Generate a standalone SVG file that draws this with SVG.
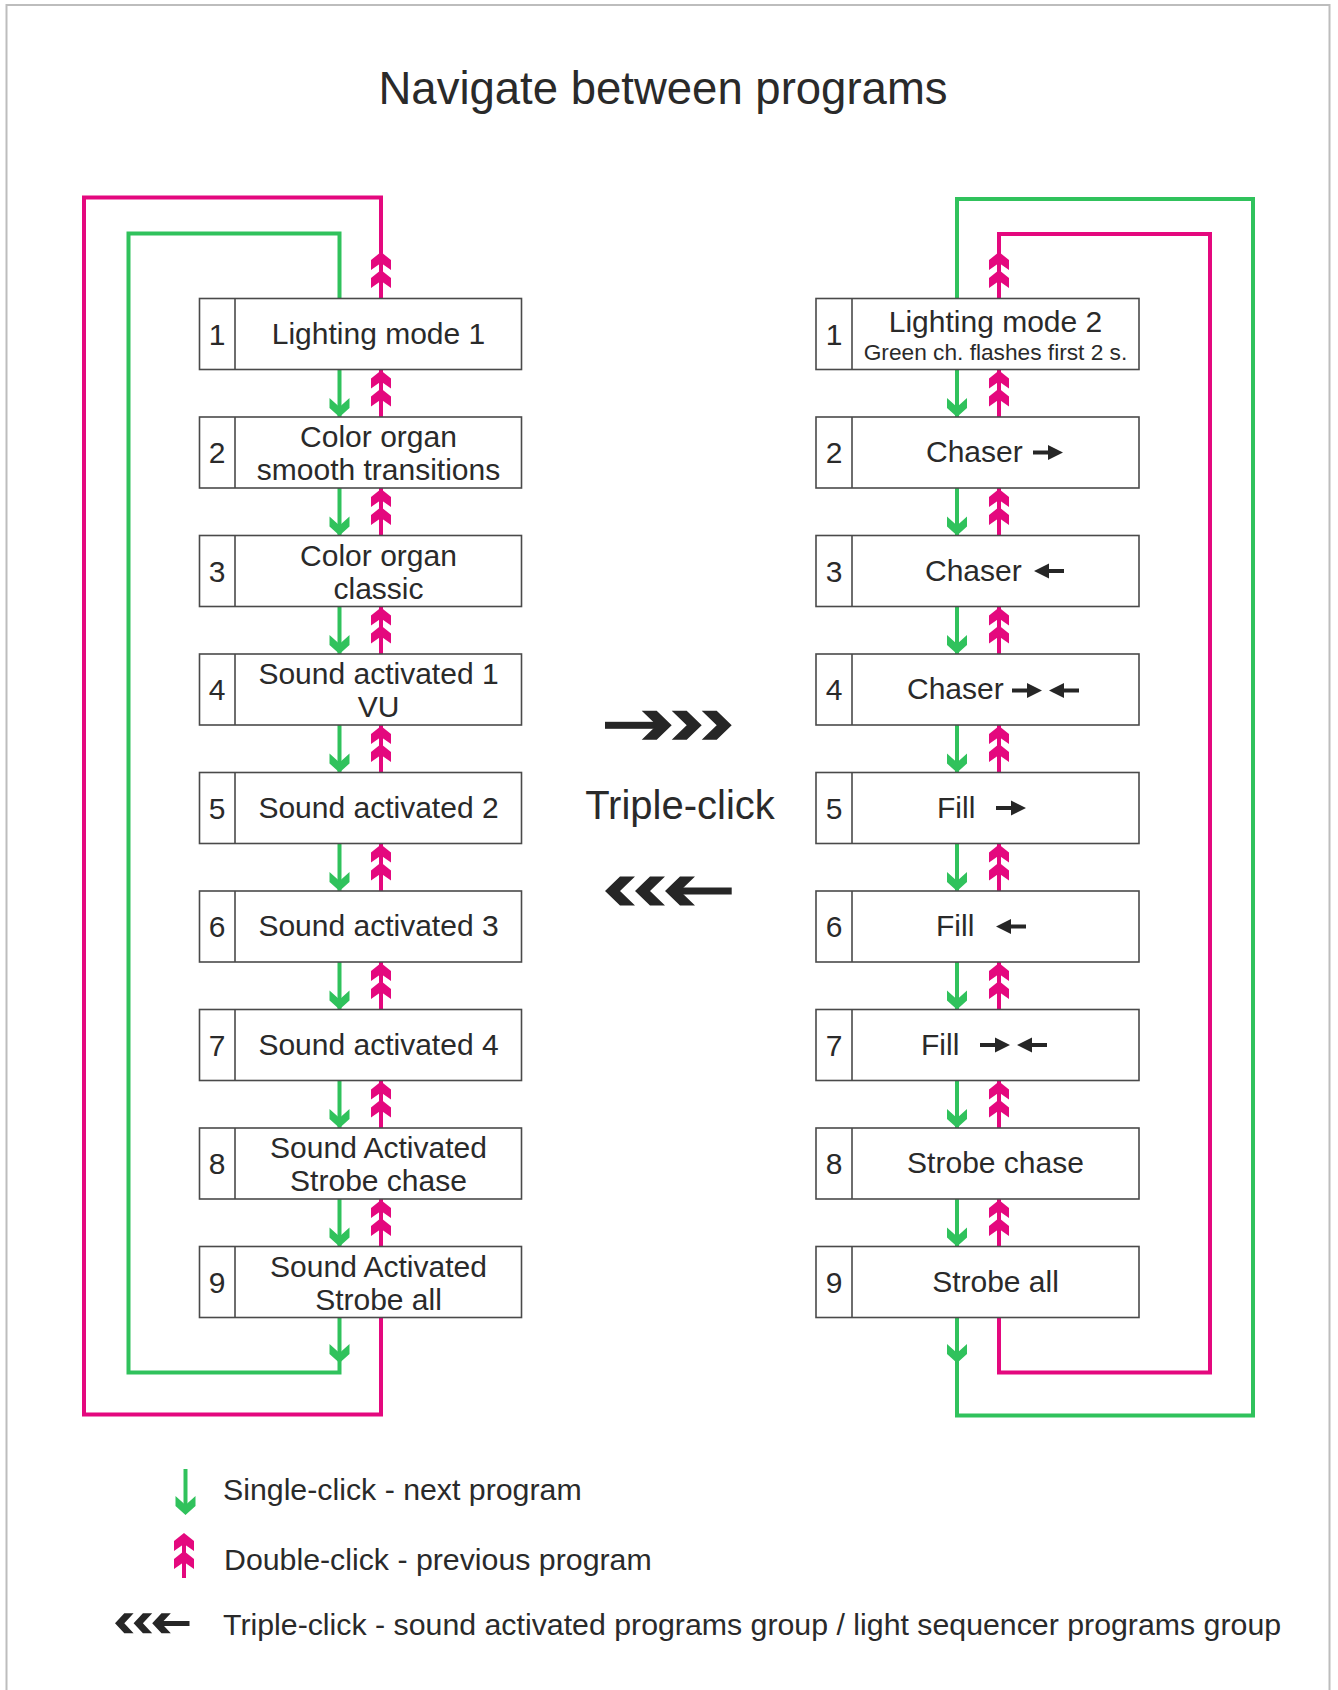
<svg xmlns="http://www.w3.org/2000/svg" xmlns:xlink="http://www.w3.org/1999/xlink" width="1338" height="1690" viewBox="0 0 1338 1690">
<style>
text{font-family:"Liberation Sans",Arial,sans-serif;fill:#2a2a2a}
.lbl{font-size:30px;text-anchor:middle}
.num{font-size:30px;text-anchor:middle}
.leg{font-size:30.3px}
.box{fill:#fff;stroke:#4a4a4a;stroke-width:1.6}
.g{fill:none;stroke:#30c25c;stroke-width:4}
.m{fill:none;stroke:#e4087e;stroke-width:4}
.gf{fill:#30c25c}
.mf{fill:#e4087e}
.bk{fill:#262626}
</style>
<defs>
<path id="gh" d="M0,0 L-10,-9 L-10,-19 L0,-10 L10,-19 L10,-9 Z"/>
<path id="mc" d="M0,0 L10,8 L10,18 L0,11 L-10,18 L-10,8 Z M0,18 L10,26 L10,36 L0,29 L-10,36 L-10,26 Z"/>
<path id="bc" d="M0,0 L-15,-14.5 L-30,-14.5 L-15,0 L-30,14.5 L-15,14.5 Z"/>
<path id="sa" d="M0,-2 H15 V-7.5 L30,0 L15,7.5 V2 H0 Z"/>
</defs>
<rect x="0" y="0" width="1338" height="1690" fill="#fff"/>
<rect x="6.5" y="5" width="1323" height="1720" fill="none" stroke="#bdbdbd" stroke-width="2"/>
<text x="663" y="103.5" style="font-size:45.5px;text-anchor:middle">Navigate between programs</text>

<g id="connectors">
<polyline class="g" points="339.5,1317.5 339.5,1372.5 128.5,1372.5 128.5,233.5 339.5,233.5 339.5,298.5"/>
<use href="#gh" class="gf" x="339.5" y="1363"/>
<polyline class="m" points="381,298.5 381,197.5 84,197.5 84,1414.5 381,1414.5 381,1317.5"/>
<use href="#mc" class="mf" x="381" y="252"/>
<polyline class="m" points="999,298.5 999,234 1210,234 1210,1372.5 999,1372.5 999,1317.5"/>
<use href="#mc" class="mf" x="999" y="252"/>
<polyline class="g" points="957,1317.5 957,1415.5 1253,1415.5 1253,199 957,199 957,298.5"/>
<use href="#gh" class="gf" x="957" y="1363"/>
<path class="g" d="M339.5,369.5V417 M339.5,488V535.5 M339.5,606.5V654 M339.5,725V772.5 M339.5,843.5V891 M339.5,962V1009.5 M339.5,1080.5V1128 M339.5,1199V1246.5 M957,369.5V417 M957,488V535.5 M957,606.5V654 M957,725V772.5 M957,843.5V891 M957,962V1009.5 M957,1080.5V1128 M957,1199V1246.5"/>
<path class="m" d="M381,369.5V417 M381,488V535.5 M381,606.5V654 M381,725V772.5 M381,843.5V891 M381,962V1009.5 M381,1080.5V1128 M381,1199V1246.5 M999,369.5V417 M999,488V535.5 M999,606.5V654 M999,725V772.5 M999,843.5V891 M999,962V1009.5 M999,1080.5V1128 M999,1199V1246.5"/>
<g class="gf">
<use href="#gh" x="339.5" y="417"/><use href="#gh" x="339.5" y="535.5"/><use href="#gh" x="339.5" y="654"/><use href="#gh" x="339.5" y="772.5"/><use href="#gh" x="339.5" y="891"/><use href="#gh" x="339.5" y="1009.5"/><use href="#gh" x="339.5" y="1128"/><use href="#gh" x="339.5" y="1246.5"/>
<use href="#gh" x="957" y="417"/><use href="#gh" x="957" y="535.5"/><use href="#gh" x="957" y="654"/><use href="#gh" x="957" y="772.5"/><use href="#gh" x="957" y="891"/><use href="#gh" x="957" y="1009.5"/><use href="#gh" x="957" y="1128"/><use href="#gh" x="957" y="1246.5"/>
</g>
<g class="mf">
<use href="#mc" x="381" y="370.5"/><use href="#mc" x="381" y="489"/><use href="#mc" x="381" y="607.5"/><use href="#mc" x="381" y="726"/><use href="#mc" x="381" y="844.5"/><use href="#mc" x="381" y="963"/><use href="#mc" x="381" y="1081.5"/><use href="#mc" x="381" y="1200"/>
<use href="#mc" x="999" y="370.5"/><use href="#mc" x="999" y="489"/><use href="#mc" x="999" y="607.5"/><use href="#mc" x="999" y="726"/><use href="#mc" x="999" y="844.5"/><use href="#mc" x="999" y="963"/><use href="#mc" x="999" y="1081.5"/><use href="#mc" x="999" y="1200"/>
</g>
</g>

<g id="L1"><rect class="box" x="199.5" y="298.5" width="322" height="71"/><line class="box" x1="235" y1="298.5" x2="235" y2="369.5"/><text class="num" x="217" y="344.5">1</text><text class="lbl" x="378.5" y="343.5">Lighting mode 1</text></g>
<g id="L2"><rect class="box" x="199.5" y="417" width="322" height="71"/><line class="box" x1="235" y1="417" x2="235" y2="488"/><text class="num" x="217" y="463">2</text><text class="lbl" x="378.5" y="447">Color organ</text><text class="lbl" x="378.5" y="480">smooth transitions</text></g>
<g id="L3"><rect class="box" x="199.5" y="535.5" width="322" height="71"/><line class="box" x1="235" y1="535.5" x2="235" y2="606.5"/><text class="num" x="217" y="581.5">3</text><text class="lbl" x="378.5" y="565.5">Color organ</text><text class="lbl" x="378.5" y="598.5">classic</text></g>
<g id="L4"><rect class="box" x="199.5" y="654" width="322" height="71"/><line class="box" x1="235" y1="654" x2="235" y2="725"/><text class="num" x="217" y="700">4</text><text class="lbl" x="378.5" y="684">Sound activated 1</text><text class="lbl" x="378.5" y="717">VU</text></g>
<g id="L5"><rect class="box" x="199.5" y="772.5" width="322" height="71"/><line class="box" x1="235" y1="772.5" x2="235" y2="843.5"/><text class="num" x="217" y="818.5">5</text><text class="lbl" x="378.5" y="817.5">Sound activated 2</text></g>
<g id="L6"><rect class="box" x="199.5" y="891" width="322" height="71"/><line class="box" x1="235" y1="891" x2="235" y2="962"/><text class="num" x="217" y="937">6</text><text class="lbl" x="378.5" y="936">Sound activated 3</text></g>
<g id="L7"><rect class="box" x="199.5" y="1009.5" width="322" height="71"/><line class="box" x1="235" y1="1009.5" x2="235" y2="1080.5"/><text class="num" x="217" y="1055.5">7</text><text class="lbl" x="378.5" y="1054.5">Sound activated 4</text></g>
<g id="L8"><rect class="box" x="199.5" y="1128" width="322" height="71"/><line class="box" x1="235" y1="1128" x2="235" y2="1199"/><text class="num" x="217" y="1174">8</text><text class="lbl" x="378.5" y="1158">Sound Activated</text><text class="lbl" x="378.5" y="1191">Strobe chase</text></g>
<g id="L9"><rect class="box" x="199.5" y="1246.5" width="322" height="71"/><line class="box" x1="235" y1="1246.5" x2="235" y2="1317.5"/><text class="num" x="217" y="1292.5">9</text><text class="lbl" x="378.5" y="1276.5">Sound Activated</text><text class="lbl" x="378.5" y="1309.5">Strobe all</text></g>

<g id="R1"><rect class="box" x="816" y="298.5" width="323" height="71"/><line class="box" x1="852" y1="298.5" x2="852" y2="369.5"/><text class="num" x="834" y="344.5">1</text><text class="lbl" x="995.5" y="331.5">Lighting mode 2</text><text x="995.5" y="359.5" style="font-size:22.7px;text-anchor:middle">Green ch. flashes first 2 s.</text></g>
<g id="R2"><rect class="box" x="816" y="417" width="323" height="71"/><line class="box" x1="852" y1="417" x2="852" y2="488"/><text class="num" x="834" y="463">2</text><text x="926" y="462" style="font-size:30px">Chaser</text><use href="#sa" class="bk" transform="translate(1033,452.5)"/></g>
<g id="R3"><rect class="box" x="816" y="535.5" width="323" height="71"/><line class="box" x1="852" y1="535.5" x2="852" y2="606.5"/><text class="num" x="834" y="581.5">3</text><text x="925" y="580.5" style="font-size:30px">Chaser</text><use href="#sa" class="bk" transform="translate(1064,571) scale(-1,1)"/></g>
<g id="R4"><rect class="box" x="816" y="654" width="323" height="71"/><line class="box" x1="852" y1="654" x2="852" y2="725"/><text class="num" x="834" y="700">4</text><text x="907" y="699" style="font-size:30px">Chaser</text><use href="#sa" class="bk" transform="translate(1012,690.5)"/><use href="#sa" class="bk" transform="translate(1079,690.5) scale(-1,1)"/></g>
<g id="R5"><rect class="box" x="816" y="772.5" width="323" height="71"/><line class="box" x1="852" y1="772.5" x2="852" y2="843.5"/><text class="num" x="834" y="818.5">5</text><text x="937" y="817.5" style="font-size:30px">Fill</text><use href="#sa" class="bk" transform="translate(996,808)"/></g>
<g id="R6"><rect class="box" x="816" y="891" width="323" height="71"/><line class="box" x1="852" y1="891" x2="852" y2="962"/><text class="num" x="834" y="937">6</text><text x="936" y="936" style="font-size:30px">Fill</text><use href="#sa" class="bk" transform="translate(1026,926.5) scale(-1,1)"/></g>
<g id="R7"><rect class="box" x="816" y="1009.5" width="323" height="71"/><line class="box" x1="852" y1="1009.5" x2="852" y2="1080.5"/><text class="num" x="834" y="1055.5">7</text><text x="921" y="1054.5" style="font-size:30px">Fill</text><use href="#sa" class="bk" transform="translate(980,1045)"/><use href="#sa" class="bk" transform="translate(1047,1045) scale(-1,1)"/></g>
<g id="R8"><rect class="box" x="816" y="1128" width="323" height="71"/><line class="box" x1="852" y1="1128" x2="852" y2="1199"/><text class="num" x="834" y="1174">8</text><text class="lbl" x="995.5" y="1173">Strobe chase</text></g>
<g id="R9"><rect class="box" x="816" y="1246.5" width="323" height="71"/><line class="box" x1="852" y1="1246.5" x2="852" y2="1317.5"/><text class="num" x="834" y="1292.5">9</text><text class="lbl" x="995.5" y="1291.5">Strobe all</text></g>

<g id="triple-click">
<rect class="bk" x="605" y="721.8" width="52" height="7"/>
<use href="#bc" class="bk" x="671.7" y="725.3"/><use href="#bc" class="bk" x="701.7" y="725.3"/><use href="#bc" class="bk" x="731.7" y="725.3"/>
<text x="680" y="818.5" style="font-size:40px;text-anchor:middle">Triple-click</text>
<use href="#bc" class="bk" transform="translate(605,891) scale(-1,1)"/><use href="#bc" class="bk" transform="translate(635,891) scale(-1,1)"/><use href="#bc" class="bk" transform="translate(665,891) scale(-1,1)"/>
<rect class="bk" x="678" y="887.5" width="53.7" height="7"/>
</g>

<g id="legend">
<line class="g" x1="185.5" y1="1469" x2="185.5" y2="1510"/>
<use href="#gh" class="gf" x="185.5" y="1515"/>
<text class="leg" x="223" y="1499.5">Single-click - next program</text>
<line class="m" x1="184" y1="1540" x2="184" y2="1578"/>
<use href="#mc" class="mf" x="184" y="1533"/>
<text class="leg" x="224" y="1569.5">Double-click - previous program</text>
<use href="#bc" class="bk" transform="translate(115,1623.3) scale(-0.62,0.69)"/><use href="#bc" class="bk" transform="translate(133.6,1623.3) scale(-0.62,0.69)"/><use href="#bc" class="bk" transform="translate(152.2,1623.3) scale(-0.62,0.69)"/>
<rect class="bk" x="160" y="1621" width="29.5" height="5"/>
<text class="leg" x="223" y="1635">Triple-click - sound activated programs group / light sequencer programs group</text>
</g>
</svg>
